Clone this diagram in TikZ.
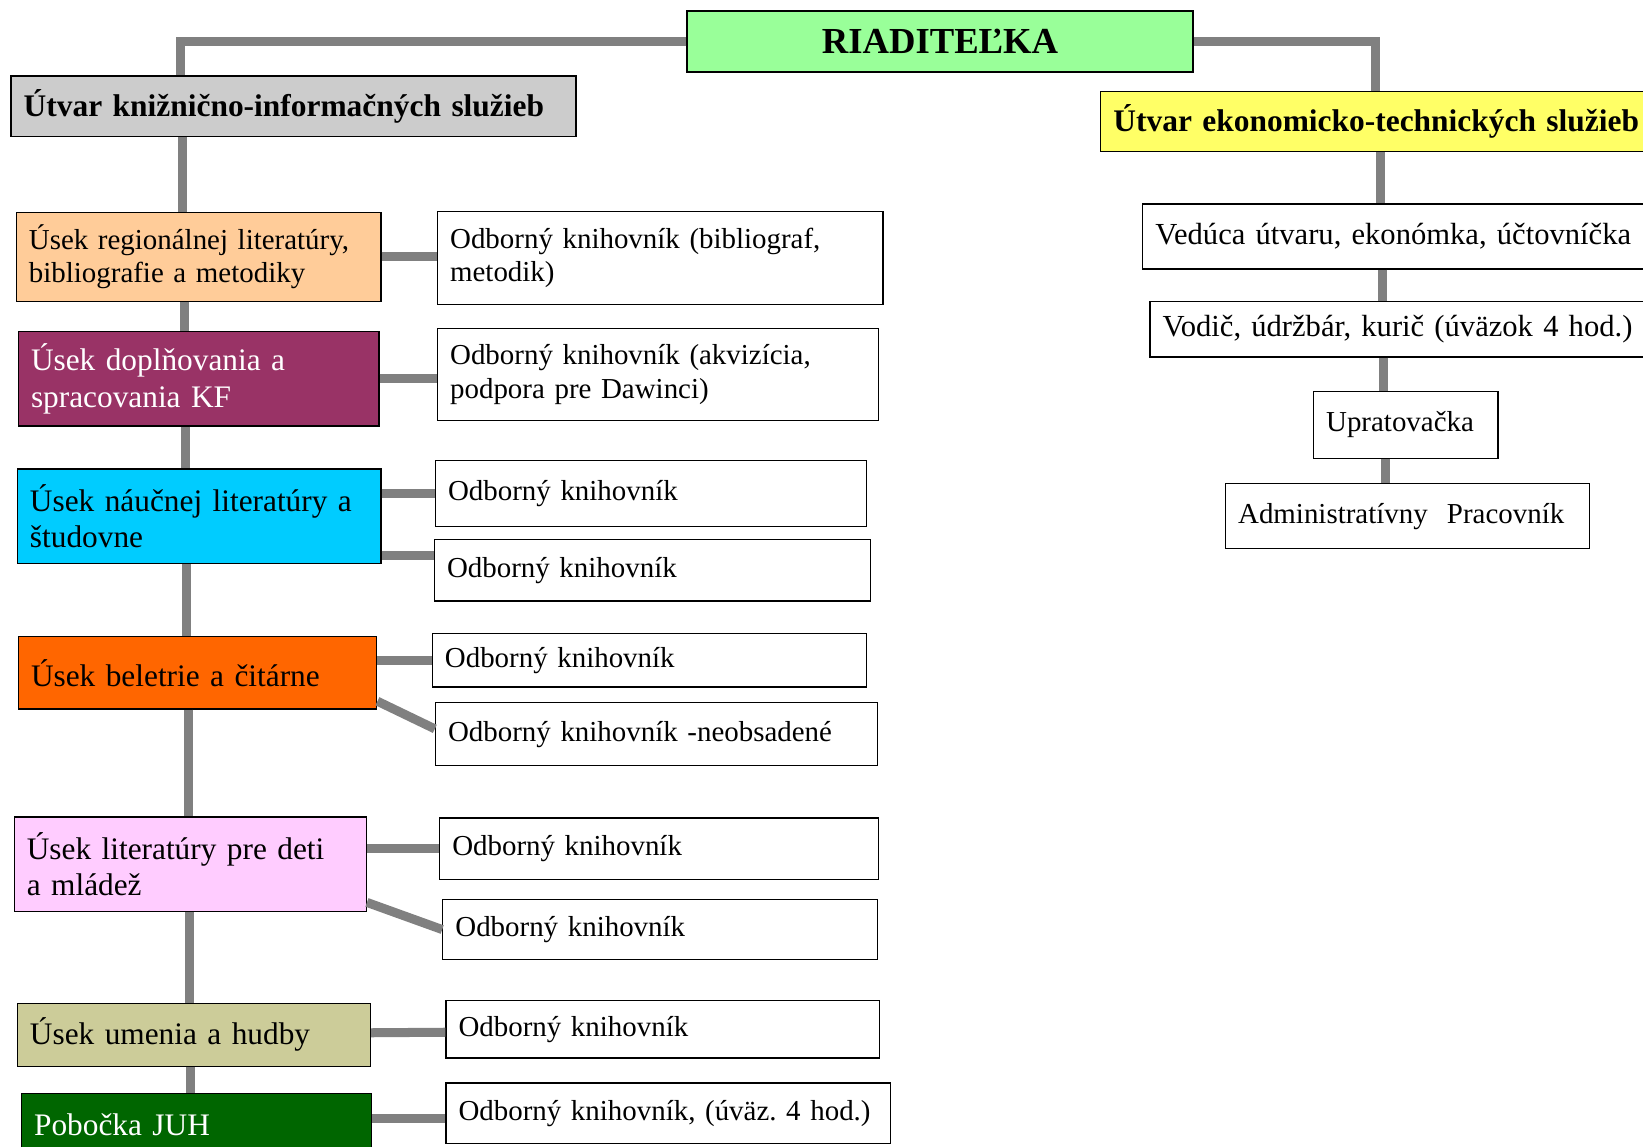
\documentclass[tikz,border=0pt]{standalone}
\usepackage{fontspec}
\setmainfont{Liberation Serif}
\usepackage{xcolor}
\usepackage{tikz}
\usetikzlibrary{positioning}
\frenchspacing

\definecolor{riadgreen}{HTML}{99FF99}
\definecolor{libgray}{HTML}{CCCCCC}
\definecolor{ecoyellow}{HTML}{FFFF66}
\definecolor{regpeach}{HTML}{FFCC99}
\definecolor{dopplum}{HTML}{993366}
\definecolor{naucyan}{HTML}{00CCFF}
\definecolor{belorange}{HTML}{FF6600}
\definecolor{detipink}{HTML}{FFCCFF}
\definecolor{hudkhaki}{HTML}{CCCC99}
\definecolor{juhgreen}{HTML}{006600}
\definecolor{linkgray}{HTML}{808080}

\begin{document}
\begin{tikzpicture}[
    x=0.5pt, y=-0.5pt,
    box/.style={rectangle, draw, anchor=north west, align=left, inner xsep=6pt, inner ysep=0pt, line width=0.6pt, font=\fontsize{13.8}{16}\selectfont},
    sect/.style={box, font=\fontsize{14.95}{17.5}\selectfont},
    head/.style={box, font=\bfseries\fontsize{15}{17}\selectfont},
    link/.style={draw=linkgray, line width=4.3pt}
]
\useasboundingbox (0,0) rectangle (1568,1094);
\clip (0,0) rectangle (1568,1094);

% Director at the top
\node (boss) [box, align=center, fill=riadgreen, text width=229.5pt, minimum height=29pt, font=\bfseries\fontsize{17.5}{20}\selectfont] at (655,10) {RIADITEĽKA};

% Two departments
\node (lib) [head, fill=libgray, text width=257.5pt, minimum height=29pt] at (10,72) {Útvar knižnično-informačných služieb};
\node (eco) [head, fill=ecoyellow, text width=288pt, minimum height=28.5pt] at (1050,87) {Útvar ekonomicko-technických služieb};

% Library sections (left column)
\node (reg) [box, fill=regpeach, text width=162pt, minimum height=42.5pt] at (15,202) {Úsek regionálnej literatúry,\\bibliografie a metodiky};
\node (dop) [sect, fill=dopplum, text=white, text width=160pt, minimum height=45pt] at (17,316) {Úsek doplňovania a\\spracovania KF};
\node (nau) [sect, fill=naucyan, text width=161.5pt, minimum height=45pt] at (16,447) {Úsek náučnej literatúry a\\študovne};
\node (bel) [sect, fill=belorange, text width=159pt, minimum height=34.5pt] at (17,607) {Úsek beletrie a čitárne};
\node (deti) [sect, fill=detipink, text width=156pt, minimum height=45pt] at (13,779) {Úsek literatúry pre deti\\a mládež};
\node (hud) [sect, fill=hudkhaki, text width=156.5pt, minimum height=30pt] at (16,957) {Úsek umenia a hudby};
\node (juh) [sect, fill=juhgreen, text=white, text width=155pt, minimum height=30pt] at (20,1043) {Pobočka JUH};

% Staff of the sections
\node (w1) [box, text width=200.5pt, minimum height=44.5pt] at (417,201) {Odborný knihovník (bibliograf,\\metodik)};
\node (w2) [box, text width=198.5pt, minimum height=44pt] at (417,313) {Odborný knihovník (akvizícia,\\podpora pre Dawinci)};
\node (w3a) [box, text width=193.5pt, minimum height=31.5pt] at (415,439) {Odborný knihovník};
\node (w3b) [box, text width=196pt, minimum height=29.5pt] at (414,514) {Odborný knihovník};
\node (w4a) [box, text width=195pt, minimum height=25.5pt] at (412,604) {Odborný knihovník};
\node (w4b) [box, text width=199pt, minimum height=30pt] at (415,670) {Odborný knihovník -neobsadené};
\node (w5a) [box, text width=197.5pt, minimum height=29.5pt] at (419,780) {Odborný knihovník};
\node (w5b) [box, text width=195.5pt, minimum height=28.5pt] at (422,858) {Odborný knihovník};
\node (w6) [box, text width=195pt, minimum height=27.5pt] at (425,954) {Odborný knihovník};
\node (w7) [box, text width=200pt, minimum height=29pt] at (425,1033) {Odborný knihovník, (úväz. 4 hod.)};

% Economic staff (right column)
\node (ved) [box, text width=263pt, minimum height=31pt, font=\fontsize{14.6}{17}\selectfont] at (1090,194) {Vedúca útvaru, ekonómka, účtovníčka};
\node (vod) [box, text width=260pt, minimum height=26.5pt, font=\fontsize{14.6}{17}\selectfont] at (1097,287) {Vodič, údržbár, kurič (úväzok 4 hod.)};
\node (upr) [box, text width=76pt, minimum height=32pt] at (1253,373) {Upratovačka};
\node (adm) [box, text width=161.5pt, minimum height=31pt] at (1169,461) {Administratívny\ \ Pracovník};

% Director to departments
\draw [link] (boss.west) -| (172,0 |- lib.north);
\draw [link] (boss.east) -| (1313,0 |- eco.north);

% Left spine
\draw [link] (174,0 |- lib.south) -- (174,0 |- reg.north);
\draw [link] (176,0 |- reg.south) -- (176,0 |- dop.north);
\draw [link] (177,0 |- dop.south) -- (177,0 |- nau.north);
\draw [link] (178,0 |- nau.south) -- (178,0 |- bel.north);
\draw [link] (180,0 |- bel.south) -- (180,0 |- deti.north);
\draw [link] (181,0 |- deti.south) -- (181,0 |- hud.north);
\draw [link] (182,0 |- hud.south) -- (182,0 |- juh.north);

% Sections to staff
\draw [link] (reg.east) -- (reg.east -| w1.west);
\draw [link] (dop.east) -- (dop.east -| w2.west);
\draw [link] (nau.east |- w3a.west) -- (w3a.west);
\draw [link] ([yshift=4pt]nau.south east) -- ([yshift=4pt]nau.south east -| w3b.west);
\draw [link] (bel.east |- w4a.west) -- (w4a.west);
\draw [link] ([yshift=4pt]bel.south east) -- ([yshift=2.5pt]w4b.west);
\draw [link] (deti.east |- w5a.west) -- (w5a.west);
\draw [link] ([yshift=4.5pt]deti.south east) -- (w5b.west);
\draw [link] ([yshift=1pt]hud.east) -- ([yshift=-1.5pt]w6.west);
\draw [link] ([yshift=-2.5pt]w7.west -| juh.east) -- ([yshift=-2.5pt]w7.west);

% Right spine
\draw [link] (1317,0 |- eco.south) -- (1317,0 |- ved.north);
\draw [link] (1319,0 |- ved.south) -- (1319,0 |- vod.north);
\draw [link] (1320,0 |- vod.south) -- (1320,0 |- upr.north);
\draw [link] (1322,0 |- upr.south) -- (1322,0 |- adm.north);

\end{tikzpicture}
\end{document}
